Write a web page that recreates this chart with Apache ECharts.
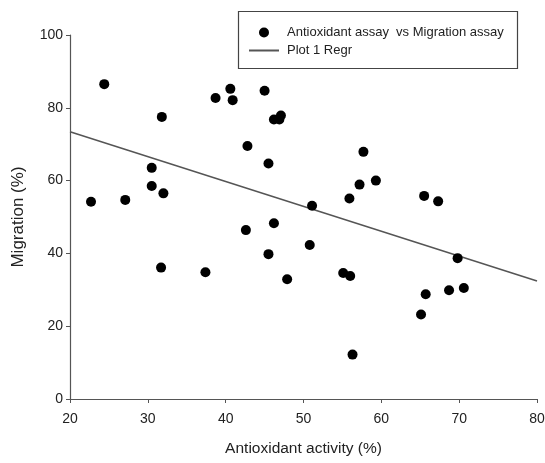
<!DOCTYPE html>
<html>
<head>
<meta charset="utf-8">
<script src="https://cdn.jsdelivr.net/npm/echarts@6/dist/echarts.min.js"></script>
<style>
  html, body { margin: 0; padding: 0; background: #fff; }
  #chart { width: 545px; height: 463px; }
</style>
</head>
<body>
<div id="chart"></div>
<script>
// 数据: 抗氧化活性 vs 迁移
var antioxidant = [22.7, 24.4, 27.1, 31.8, 30.5, 30.5, 32.0, 38.7, 40.6, 40.9,
  42.8, 45.0, 45.5, 46.2, 46.9, 47.1, 46.2, 42.6, 45.5, 47.9,
  31.7, 37.4, 57.7, 57.2, 59.3, 55.9, 51.1, 65.5, 67.3, 50.8,
  55.1, 56.0, 56.3, 69.8, 65.7, 68.7, 70.6, 65.1];
var migration = [54.2, 86.5, 54.7, 77.5, 63.5, 58.5, 56.5, 82.7, 85.2, 82.1,
  69.5, 84.7, 64.7, 76.8, 76.8, 77.9, 48.3, 46.4, 39.8, 32.9,
  36.1, 34.8, 67.9, 58.9, 60.0, 55.1, 53.1, 55.8, 54.3, 42.3,
  34.6, 33.8, 12.2, 38.7, 28.8, 29.9, 30.5, 23.2];

// 回归线端点
var regrX = [20, 80];
var regrY = [73.4, 32.4];

var xTicks = [20, 30, 40, 50, 60, 70, 80];
var yTicks = [0, 20, 40, 60, 80, 100];

var scatterData = [];
for (let i = 0; i < antioxidant.length; i++) {
  scatterData.push([antioxidant[i], migration[i]]);
}
var regrData = [];
for (let i = 0; i < regrX.length; i++) {
  regrData.push([regrX[i], regrY[i]]);
}

var font = "'Liberation Sans', Arial, sans-serif";
var axisColor = "#555";

var chart = echarts.init(document.getElementById("chart"));
var opts = {
  backgroundColor: "#fff",
  animation: false,
  grid: { left: 70, right: 8, top: 35, bottom: 64, outerBoundsMode: "none" },
  graphic: [{
    type: "rect",
    left: 236, top: 9,
    shape: { width: 279, height: 57 },
    style: { fill: "none", stroke: "#444", lineWidth: 1.2 },
    z: 10
  }],
  legend: {
    orient: "vertical",
    left: 243, top: 21,
    itemWidth: 30, itemHeight: 10,
    itemGap: 5,
    textStyle: { fontFamily: font, fontSize: 13, color: "#222", padding: [0, 0, 0, 3] },
    data: [
      { name: "Antioxidant assay  vs Migration assay", icon: "circle" },
      { name: "Plot 1 Regr", itemStyle: { opacity: 0 } }
    ]
  },
  xAxis: {
    type: "value",
    min: xTicks[0], max: xTicks[xTicks.length - 1], interval: 10,
    name: "Antioxidant activity (%)",
    nameLocation: "middle", nameGap: 42,
    nameTextStyle: { fontFamily: font, fontSize: 15.5, color: "#222" },
    axisLine: { show: true, lineStyle: { color: axisColor, width: 1.2 } },
    axisTick: { show: true, inside: false, length: 4, lineStyle: { color: axisColor } },
    axisLabel: { fontFamily: font, fontSize: 14, color: "#222", margin: 13 },
    splitLine: { show: false }
  },
  yAxis: {
    type: "value",
    min: yTicks[0], max: yTicks[yTicks.length - 1], interval: 20,
    name: "Migration (%)",
    nameLocation: "middle", nameGap: 43,
    nameTextStyle: { fontFamily: font, fontSize: 17, color: "#222" },
    axisLine: { show: true, lineStyle: { color: axisColor, width: 1.2 } },
    axisTick: { show: true, inside: false, length: 4, lineStyle: { color: axisColor } },
    axisLabel: { fontFamily: font, fontSize: 14, color: "#222", margin: 7 },
    splitLine: { show: false }
  },
  series: [
    {
      name: "Antioxidant assay  vs Migration assay",
      type: "scatter",
      symbol: "circle",
      symbolSize: 10,
      itemStyle: { color: "#000", opacity: 1 },
      data: scatterData,
      z: 3
    },
    {
      name: "Plot 1 Regr",
      type: "line",
      symbol: "none",
      lineStyle: { color: "#555", width: 1.5 },
      itemStyle: { color: "#555" },
      data: regrData,
      z: 2
    }
  ]
};
chart.setOption(opts);
</script>
</body>
</html>
